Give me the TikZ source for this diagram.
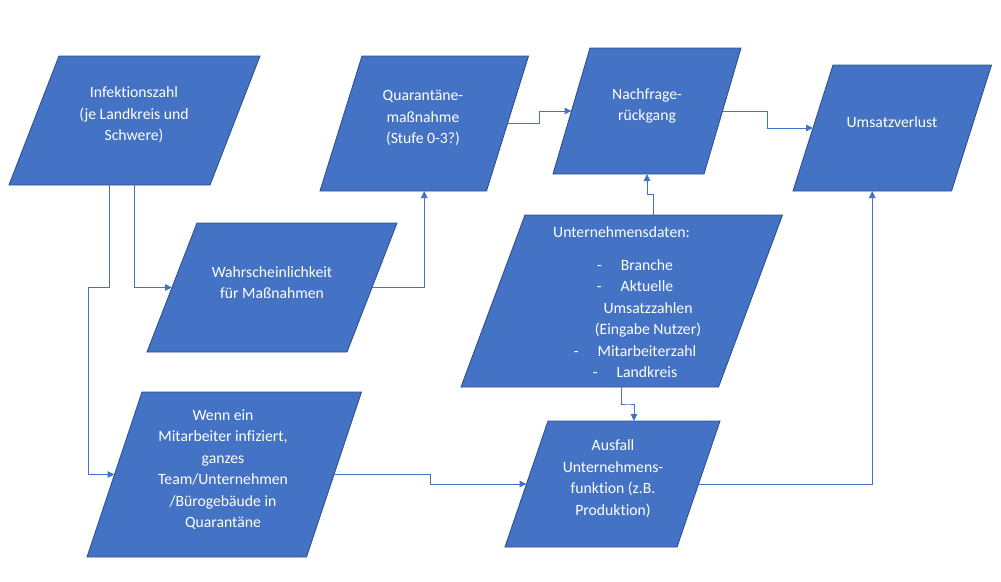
\documentclass[tikz,border=0pt]{standalone}
\usepackage{fontspec}
\setmainfont{Carlito}[Ligatures=NoCommon]
\usetikzlibrary{arrows.meta,calc}
\definecolor{boxfill}{HTML}{4472C4}
\definecolor{boxline}{HTML}{2F528F}
\definecolor{conncol}{HTML}{4472C4}
% #1 name, #2 top-left x, #3 top y, #4 bottom-left x, #5 bottom y, #6 width
\newcommand{\pgram}[6]{%
  \coordinate (#1-tl) at (#2,#3);
  \coordinate (#1-tr) at (#2+#6,#3);
  \coordinate (#1-bl) at (#4,#5);
  \coordinate (#1-br) at (#4+#6,#5);
  \draw[box] (#1-tl) -- (#1-tr) -- (#1-br) -- (#1-bl) -- cycle;
  \coordinate (#1-c) at ($(#1-tl)!0.5!(#1-br)$);
  \coordinate (#1-l) at ($(#1-tl)!0.5!(#1-bl)$);
  \coordinate (#1-r) at ($(#1-tr)!0.5!(#1-br)$);
  \coordinate (#1-t) at ($(#1-tl)!0.5!(#1-tr)$);
  \coordinate (#1-b) at ($(#1-bl)!0.5!(#1-br)$);
  \coordinate (#1-bc) at (#1-c |- #1-bl);
}
\begin{document}
\begin{tikzpicture}[x=1pt,y=-1pt,
  box/.style={fill=boxfill,draw=boxline,line width=0.9pt},
  txt/.style={text=white,font=\fontsize{15.7}{21.5}\selectfont,align=center,inner sep=0pt},
  conn/.style={draw=conncol,line width=1pt,-{Triangle[length=7pt,width=6.5pt]}}]
\useasboundingbox (0,0) rectangle (1001,581);

\pgram{inf}{59}{56}{9}{185}{201}
\pgram{quar}{362}{56}{320}{191}{166.5}
\pgram{nach}{590}{48}{553}{174}{151}
\pgram{ums}{833}{65}{793}{191}{158.5}
\pgram{wahr}{197}{223}{147}{352}{200}
\pgram{untd}{525}{215}{461}{387}{257.5}
\pgram{wenn}{142}{392}{87}{557}{219.5}
\pgram{ausf}{548}{421}{505}{547}{172}

\node[txt] (infT) at (134,115) {Infektionszahl\\(je Landkreis und\\Schwere)};
\node[txt] (quarT) at (423,118) {Quarantäne-\\maßnahme\\(Stufe 0-3?)};
\node[txt] (nachT) at (647,106) {Nachfrage-\\rückgang};
\node[txt] (umsT) at (892,122) {Umsatzverlust};
\node[txt] (wahrT) at (272,282.5) {Wahrscheinlichkeit\\für Maßnahmen};
\node[txt] (wennT) at (223,469.5) {Wenn ein\\Mitarbeiter infiziert,\\ganzes\\Team/Unternehmen\\/Bürogebäude in\\Quarantäne};
\node[txt] (ausfT) at (613,478.5) {Ausfall\\Unternehmens-\\funktion (z.B.\\Produktion)};
\node[txt] (untdH) at (621.5,232) {Unternehmensdaten:};
\node[txt] (untdL) at (635,318.5) {-\hspace{19pt}Branche\\-\hspace{19pt}Aktuelle\\\hspace*{26pt}Umsatzzahlen\\\hspace*{26pt}(Eingabe Nutzer)\\-\hspace{19pt}Mitarbeiterzahl\\-\hspace{19pt}Landkreis};

\draw[conn] (inf-bc) |- (wahr-l);
\draw[conn] (inf-b) -- (inf-b |- wahr-l) -- ++(-21.5,0) |- (wenn-l);
\draw[conn] (wahr-r) -| (quar-bc);
\draw[conn] (quar-r) -| ($(quar-r)!0.5!(nach-l)$) |- (nach-l);
\draw[conn] (nach-r) -| ($(nach-r)!0.5!(ums-l)$) |- (ums-l);
\draw[conn] (untd-t) |- ($(untd-t)!0.5!(nach-bc)$) -| (nach-bc);
\draw[conn] (untd-bc) |- ($(untd-bc)!0.5!(ausf-t)$) -| (ausf-t);
\draw[conn] (wenn-r) -| ($(wenn-r)!0.5!(ausf-l)$) |- (ausf-l);
\draw[conn] (ausf-r) -| (ums-b);
\end{tikzpicture}
\end{document}
